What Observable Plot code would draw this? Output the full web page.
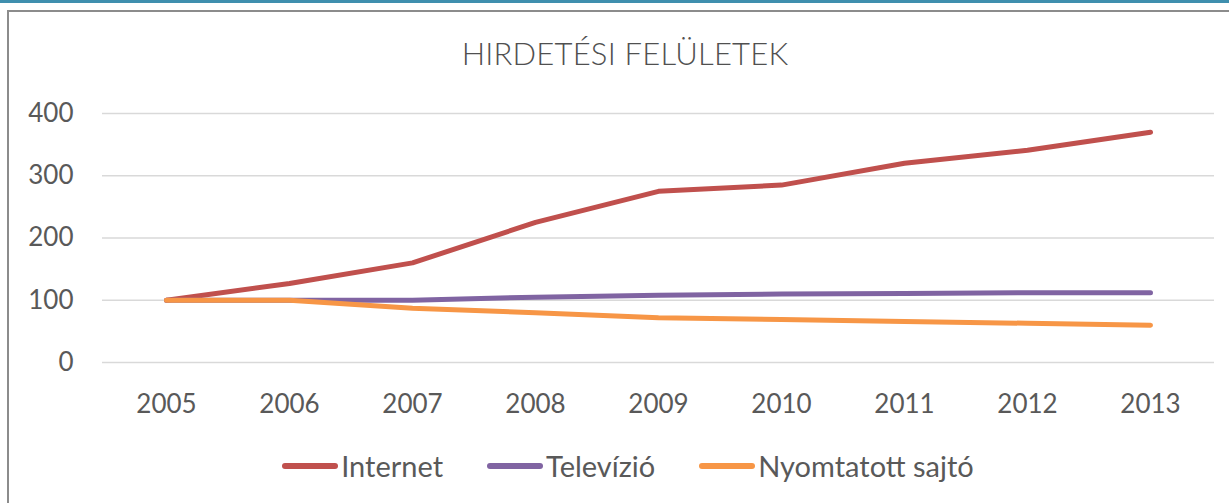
<!DOCTYPE html>
<html>
<head>
<meta charset="utf-8">
<script src="https://cdn.jsdelivr.net/npm/d3@7"></script>
<script src="https://cdn.jsdelivr.net/npm/@observablehq/plot@0.6"></script>
<style>
  html, body { margin: 0; padding: 0; background: #fff; overflow: hidden; }
  body { width: 1229px; height: 503px; position: relative; font-family: Lato, "Open Sans", sans-serif; color: #595959; }
  #topline { position: absolute; left: 0; top: 0; width: 1229px; height: 3px; background: #3f8fae; }
  #frame { position: absolute; left: 7px; top: 10px; width: 1240px; height: 520px; border: 2px solid #8c8c8c; box-sizing: border-box; }
  #title { position: absolute; left: 0; width: 1250px; top: 34px; text-align: center; font-size: 31px; font-weight: 300; color: #505050; letter-spacing: 0.2px; }
  #chart { position: absolute; left: 0; top: 80px; }
  #legend { position: absolute; top: 446px; left: 0; width: 1256px; display: flex; justify-content: center; align-items: center; font-size: 29px; line-height: 40px; color: #595959; }
  .item { display: flex; align-items: center; margin: 0 22px; }
  .sw { width: 56px; height: 5.5px; border-radius: 3px; margin-right: 3px; }
</style>
</head>
<body>
<div id="topline"></div>
<div id="frame"></div>
<div id="title">HIRDETÉSI FELÜLETEK</div>
<div id="chart"></div>
<div id="legend"></div>
<script>
const years = ["2005", "2006", "2007", "2008", "2009", "2010", "2011", "2012", "2013"];
const internet = [100, 127, 160, 225, 275, 285, 320, 341, 370];
const televizio = [100, 100, 100, 105, 108, 110, 111, 112, 112];
const sajto = [100, 100, 87, 80, 72, 69, 66, 63, 60];
const seriesNames = ["Internet", "Televízió", "Nyomtatott sajtó"];
const seriesColors = ["#c0504d", "#8064a2", "#f79646"];
const yTicks = [0, 100, 200, 300, 400];

const seriesValues = [internet, televizio, sajto];
const rows = [];
seriesNames.forEach((name, i) => {
  years.forEach((yr, j) => rows.push({series: name, year: yr, value: seriesValues[i][j]}));
});

const chart = Plot.plot({
  width: 1229,
  height: 360,
  marginTop: 33,
  marginBottom: 78,
  marginLeft: 102,
  marginRight: 15,
  style: {fontFamily: "Lato, 'Open Sans', sans-serif", color: "#595959", background: "transparent"},
  x: {type: "point", domain: years, padding: 0.5},
  y: {domain: [0, 400]},
  color: {domain: seriesNames, range: seriesColors},
  marks: [
    Plot.gridY(yTicks, {stroke: "#d9d9d9", strokeOpacity: 1, strokeWidth: 1.5}),
    Plot.axisY(yTicks, {tickSize: 0, tickPadding: 29, fontSize: 26, fill: "#595959", label: null}),
    Plot.axisX({tickSize: 0, tickPadding: 32, fontSize: 26, fill: "#595959", label: null}),
    Plot.line(rows, {x: "year", y: "value", z: "series", stroke: "series", strokeWidth: 5, strokeLinecap: "round", strokeLinejoin: "round"})
  ]
});
document.getElementById("chart").appendChild(chart);

const legend = document.getElementById("legend");
seriesNames.forEach((name, i) => {
  const item = document.createElement("div");
  item.className = "item";
  const sw = document.createElement("div");
  sw.className = "sw";
  sw.style.background = seriesColors[i];
  const label = document.createElement("span");
  label.textContent = name;
  item.appendChild(sw);
  item.appendChild(label);
  legend.appendChild(item);
});
</script>
</body>
</html>
